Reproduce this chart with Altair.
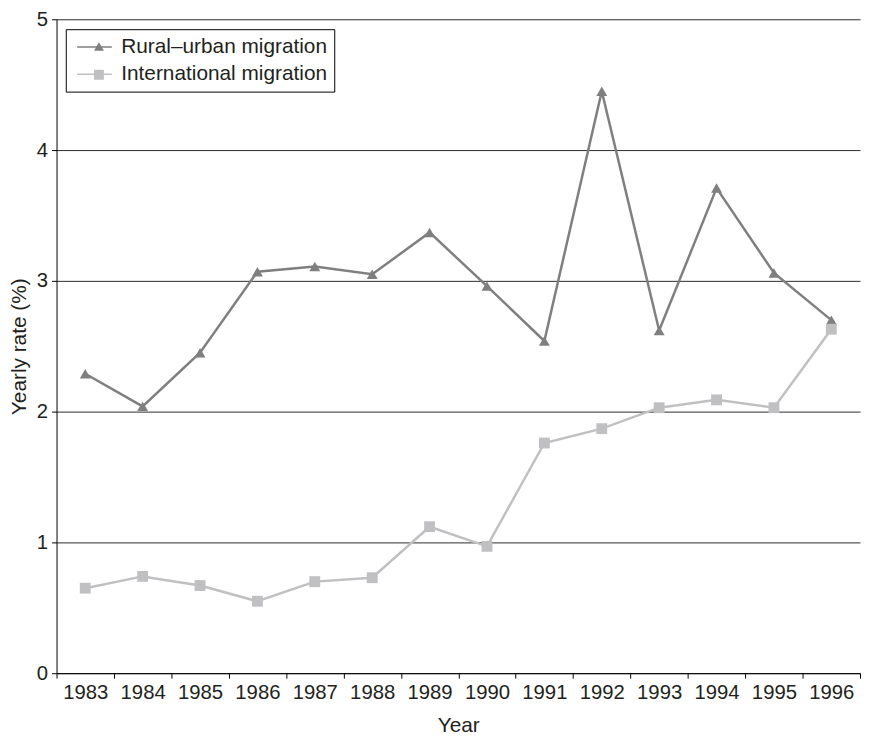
import altair as alt
import pandas as pd

years = [str(y) for y in range(1983, 1997)]
rural = [2.29, 2.04, 2.45, 3.07, 3.11, 3.05, 3.37, 2.96, 2.54, 4.45, 2.62, 3.71, 3.06, 2.70]
intl = [0.65, 0.74, 0.67, 0.55, 0.70, 0.73, 1.12, 0.97, 1.76, 1.87, 2.03, 2.09, 2.03, 2.63]
series_names = ["Rural–urban migration", "International migration"]
series_colors = ["#7f7f7f", "#c0c0c3"]
series_shapes = ["triangle-up", "square"]
y_ticks = [0, 1, 2, 3, 4, 5]

rows = []
for name, vals in zip(series_names, [rural, intl]):
    for yr, v in zip(years, vals):
        rows.append({"Year": yr, "rate": v, "series": name, "marker": name})
df = pd.DataFrame(rows)

FONT = "Liberation Sans"
TXT = "#231f20"

LEG_X, LEG_Y = 9.3, 10.0

legend_lines = alt.Legend(
    title=None, orient="none", legendX=LEG_X, legendY=LEG_Y, direction="vertical",
    strokeColor="black", fillColor="white", padding=7,
    symbolType="M-1.75,0H1.75", symbolSize=400, symbolOffset=11, labelOffset=16,
    rowPadding=6.5, symbolStrokeWidth=1.5, labelLimit=500,
    labelFontSize=21, labelFont=FONT, labelColor=TXT, zindex=1,
)
legend_marks = alt.Legend(
    title=None, orient="none", legendX=LEG_X, legendY=LEG_Y, direction="vertical",
    padding=7, symbolSize=100, symbolOffset=16, labelOffset=21,
    rowPadding=6.5, symbolStrokeWidth=0, symbolOpacity=1, labelLimit=500,
    labelFontSize=21, labelFont=FONT, labelOpacity=0, labelExpr="' '", zindex=2,
)

x_enc = alt.X(
    "Year:O",
    scale=alt.Scale(type="band", paddingInner=0, paddingOuter=0),
    bandPosition=0.5,
    axis=alt.Axis(tickBand="extent", labelAngle=0, grid=False, tickSize=5,
                  labelPadding=5, titlePadding=11, labelFontSize=20.5),
    title="Year",
)
y_enc = alt.Y(
    "rate:Q",
    scale=alt.Scale(domain=[0, 5], nice=False),
    axis=alt.Axis(values=y_ticks, grid=True, gridColor="#2a2a2a", gridWidth=1,
                  tickSize=5, labelPadding=4, titlePadding=7, labelFontSize=20.5),
    title="Yearly rate (%)",
)

lines = alt.Chart(df).mark_line(strokeWidth=2.5).encode(
    x=x_enc, y=y_enc,
    color=alt.Color("series:N", scale=alt.Scale(domain=series_names, range=series_colors),
                    legend=legend_lines),
    order=alt.Order("Year:O"),
)
points = alt.Chart(df).mark_point(filled=True, size=120, opacity=1).encode(
    x=x_enc, y=y_enc,
    color=alt.Color("marker:N", scale=alt.Scale(domain=series_names, range=series_colors),
                    legend=legend_marks),
    shape=alt.Shape("marker:N", scale=alt.Scale(domain=series_names, range=series_shapes),
                    legend=legend_marks),
)

chart = alt.layer(lines, points).resolve_scale(
    color="independent", shape="independent"
).resolve_legend(color="independent", shape="independent").properties(
    width=811, height=660,
    autosize=alt.AutoSizeParams(type="none"),
    padding={"left": 49, "top": 8, "right": 3, "bottom": 60},
).configure_view(stroke=None).configure_axis(
    labelFont=FONT, titleFont=FONT, titleFontSize=21,
    titleFontWeight="normal", labelColor=TXT, titleColor=TXT,
    domainColor="black", tickColor="black", domainWidth=1, tickWidth=1,
)

chart.save("out.html", embed_options={"renderer": "svg", "actions": False})
